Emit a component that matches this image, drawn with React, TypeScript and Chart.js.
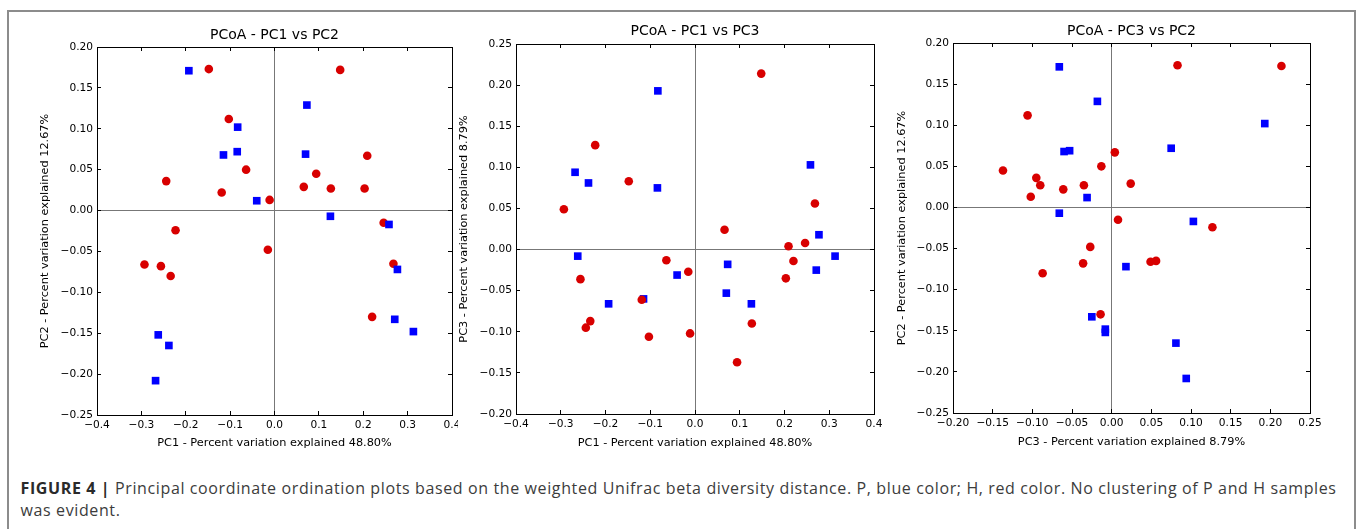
import React, { useEffect, useRef } from 'react';
import { Chart, registerables } from 'chart.js';

Chart.register(...registerables);

// ---- Data: P samples (blue squares) ----
const P_PC1 = [-0.193, 0.073, -0.083, -0.115, -0.084, 0.070, -0.040, 0.126, 0.258, 0.277, 0.271, 0.313, -0.262, -0.238, -0.268];
const P_PC2 = [0.171, 0.129, 0.102, 0.068, 0.072, 0.069, 0.012, -0.007, -0.017, -0.072, -0.133, -0.148, -0.152, -0.165, -0.208];
const P_PC3 = [-0.066, -0.018, 0.193, -0.060, 0.075, -0.053, -0.031, -0.066, 0.103, 0.018, -0.025, -0.008, -0.008, 0.081, 0.094];

// ---- Data: H samples (red circles) ----
const H_PC1 = [-0.148, 0.148, -0.103, -0.064, -0.244, -0.119, -0.011, 0.066, 0.094, 0.127, 0.203, 0.209, 0.246, -0.223, -0.015, -0.293, -0.256, -0.234, 0.268, 0.220];
const H_PC2 = [0.173, 0.172, 0.112, 0.050, 0.036, 0.022, 0.013, 0.029, 0.045, 0.027, 0.027, 0.067, -0.015, -0.024, -0.048, -0.066, -0.068, -0.080, -0.065, -0.130];
const H_PC3 = [0.083, 0.214, -0.106, -0.013, -0.095, -0.061, -0.102, 0.024, -0.137, -0.090, -0.035, 0.004, 0.008, 0.127, -0.027, 0.049, -0.036, -0.087, 0.056, -0.014];

// ---- Tick values ----
const PC1_TICKS = [-0.4, -0.3, -0.2, -0.1, 0.0, 0.1, 0.2, 0.3, 0.4];
const PC2_TICKS = [-0.25, -0.2, -0.15, -0.1, -0.05, 0.0, 0.05, 0.1, 0.15, 0.2];
const PC3_TICKS_Y = [-0.2, -0.15, -0.1, -0.05, 0.0, 0.05, 0.1, 0.15, 0.2, 0.25];
const PC3_TICKS_X = [-0.2, -0.15, -0.1, -0.05, 0.0, 0.05, 0.1, 0.15, 0.2, 0.25];

// ---- Text ----
const TITLES = ['PCoA - PC1 vs PC2', 'PCoA - PC1 vs PC3', 'PCoA - PC3 vs PC2'];
const PC1_LABEL = 'PC1 - Percent variation explained 48.80%';
const PC2_LABEL = 'PC2 - Percent variation explained 12.67%';
const PC3_LABEL = 'PC3 - Percent variation explained 8.79%';
const CAPTION_BOLD = 'FIGURE 4 |';
const CAPTION_LINE1 = ' Principal coordinate ordination plots based on the weighted Unifrac beta diversity distance. P, blue color; H, red color. No clustering of P and H samples';
const CAPTION_LINE2 = 'was evident.';

const BLUE = '#0000ff';
const RED = '#d80000';
const FONT = "'DejaVu Sans', sans-serif";

type PanelSpec = {
  title: string;
  xLabel: string;
  yLabel: string;
  px: number[]; py: number[]; hx: number[]; hy: number[];
  xTicks: number[]; yTicks: number[];
  xDec: number; yDec: number;
  blueOnTop: boolean;
  // layout
  left: number; top: number; width: number; height: number;
  wl: number; wr: number; ht: number; hb: number;
  titlePad: number; xTitlePad: number; yTitlePad: number;
};

const fmt = (v: number, d: number) => (v < -1e-9 ? '\u2212' : '') + Math.abs(v).toFixed(d);

const PANELS: PanelSpec[] = [
  {
    title: TITLES[0], xLabel: PC1_LABEL, yLabel: PC2_LABEL,
    px: P_PC1, py: P_PC2, hx: H_PC1, hy: H_PC2,
    xTicks: PC1_TICKS, yTicks: PC2_TICKS, xDec: 1, yDec: 2, blueOnTop: true,
    left: 20, top: 15, width: 438, height: 445,
    wl: 77, wr: 6, ht: 32, hb: 45,
    titlePad: 13, xTitlePad: 11, yTitlePad: 19.8,
  },
  {
    title: TITLES[1], xLabel: PC1_LABEL, yLabel: PC3_LABEL,
    px: P_PC1, py: P_PC3, hx: H_PC1, hy: H_PC3,
    xTicks: PC1_TICKS, yTicks: PC3_TICKS_Y, xDec: 1, yDec: 2, blueOnTop: false,
    left: 450, top: 15, width: 440, height: 445,
    wl: 66, wr: 16, ht: 29, hb: 46,
    titlePad: 9.7, xTitlePad: 11, yTitlePad: 8.9,
  },
  {
    title: TITLES[2], xLabel: PC3_LABEL, yLabel: PC2_LABEL,
    px: P_PC3, py: P_PC2, hx: H_PC3, hy: H_PC2,
    xTicks: PC3_TICKS_X, yTicks: PC2_TICKS, xDec: 2, yDec: 2, blueOnTop: true,
    left: 890, top: 15, width: 450, height: 445,
    wl: 63, wr: 30, ht: 28, hb: 47,
    titlePad: 9.7, xTitlePad: 12.6, yTitlePad: 6.4,
  },
];

function Panel({ spec }: { spec: PanelSpec }) {
  const ref = useRef<HTMLCanvasElement | null>(null);
  useEffect(() => {
    if (!ref.current) return;
    const s = spec;
    const tickFont = { family: FONT, size: 10.6 };
    const zeroColor = (ctx: any) => (Math.abs(ctx.tick?.value ?? 1) < 1e-9 ? '#777777' : 'rgba(0,0,0,0)');
    const fixPad = (scale: any) => {
      scale.paddingLeft = 0; scale.paddingRight = 0; scale.paddingTop = 0; scale.paddingBottom = 0;
    };
    const setTicks = (arr: number[]) => (scale: any) => { scale.ticks = arr.map((v) => ({ value: v })); };
    const [xmin, xmax] = [s.xTicks[0], s.xTicks[s.xTicks.length - 1]];
    const [ymin, ymax] = [s.yTicks[0], s.yTicks[s.yTicks.length - 1]];
    const blue = {
      label: 'P',
      data: s.px.map((v, i) => ({ x: v, y: s.py[i] })),
      pointStyle: 'rect',
      pointRadius: 5.4,
      backgroundColor: BLUE,
      borderWidth: 0,
      order: s.blueOnTop ? 0 : 1,
    };
    const red = {
      label: 'H',
      data: s.hx.map((v, i) => ({ x: v, y: s.hy[i] })),
      pointStyle: 'circle',
      pointRadius: 4.3,
      backgroundColor: RED,
      borderWidth: 0,
      order: s.blueOnTop ? 1 : 0,
    };
    const chart = new Chart(ref.current, {
      type: 'scatter',
      data: { datasets: [blue as any, red as any] },
      options: {
        animation: false,
        responsive: false,
        events: [],
        layout: { padding: 0 },
        plugins: { legend: { display: false }, tooltip: { enabled: false }, title: { display: false } },
        scales: {
          x: {
            type: 'linear', position: 'bottom', min: xmin, max: xmax,
            afterBuildTicks: setTicks(s.xTicks),
            afterFit: (sc: any) => { sc.height = s.hb; fixPad(sc); },
            ticks: { font: tickFont, color: '#000', padding: 8, maxRotation: 0, autoSkip: false, callback: (v: any) => fmt(Number(v), s.xDec) },
            grid: { drawOnChartArea: true, drawTicks: true, tickLength: -4, color: zeroColor, tickColor: '#000', lineWidth: 1, tickWidth: 1 },
            border: { display: true, color: '#000', width: 1 },
            title: { display: true, text: s.xLabel, color: '#000', font: { family: FONT, size: 11.3, lineHeight: 1 }, padding: { top: 0, bottom: s.xTitlePad } },
          },
          x2: {
            type: 'linear', position: 'top', min: xmin, max: xmax,
            afterBuildTicks: setTicks(s.xTicks),
            afterFit: (sc: any) => { sc.height = s.ht; fixPad(sc); },
            ticks: { display: false },
            grid: { drawOnChartArea: false, drawTicks: true, tickLength: -4, tickColor: '#000', color: '#000', tickWidth: 1 },
            border: { display: true, color: '#000', width: 1 },
            title: { display: true, text: s.title, color: '#000', font: { family: FONT, size: 14, lineHeight: 1 }, padding: { top: s.titlePad, bottom: 0 } },
          },
          y: {
            type: 'linear', position: 'left', min: ymin, max: ymax,
            afterBuildTicks: setTicks(s.yTicks),
            afterFit: (sc: any) => { sc.width = s.wl; fixPad(sc); },
            ticks: { font: tickFont, color: '#000', padding: 8, autoSkip: false, callback: (v: any) => fmt(Number(v), s.yDec) },
            grid: { drawOnChartArea: true, drawTicks: true, tickLength: -4, color: zeroColor, tickColor: '#000', lineWidth: 1, tickWidth: 1 },
            border: { display: true, color: '#000', width: 1 },
            title: { display: true, text: s.yLabel, color: '#000', font: { family: FONT, size: 11.3, lineHeight: 1 }, padding: { top: s.yTitlePad, bottom: 0 } },
          },
          y2: {
            type: 'linear', position: 'right', min: ymin, max: ymax,
            afterBuildTicks: setTicks(s.yTicks),
            afterFit: (sc: any) => { sc.width = s.wr; fixPad(sc); },
            ticks: { display: false },
            grid: { drawOnChartArea: false, drawTicks: true, tickLength: -4, tickColor: '#000', color: '#000', tickWidth: 1 },
            border: { display: true, color: '#000', width: 1 },
          },
        },
      } as any,
    });
    return () => chart.destroy();
  }, [spec]);
  return (
    <canvas
      ref={ref}
      width={spec.width}
      height={spec.height}
      style={{ position: 'absolute', left: spec.left, top: spec.top, width: spec.width, height: spec.height }}
    />
  );
}

export default function App() {
  return (
    <div style={{ position: 'absolute', left: 0, top: 0, width: 1357, height: 529, overflow: 'hidden', background: '#fff' }}>
      <div style={{ position: 'absolute', left: 7, top: 10, width: 1349, height: 560, border: '2px solid #8c8c8c', boxSizing: 'border-box' }} />
      {PANELS.map((p, i) => (
        <Panel key={i} spec={p} />
      ))}
      <div style={{ position: 'absolute', left: 20.5, top: 476.5, whiteSpace: 'nowrap', fontFamily: "'Open Sans', 'Liberation Sans', sans-serif", fontSize: 16, letterSpacing: '0.62px', lineHeight: '22.5px', color: '#3c3c3c' }}>
        <div>
          <span style={{ fontWeight: 'bold', color: '#2a2a2a' }}>{CAPTION_BOLD}</span>
          {CAPTION_LINE1}
        </div>
        <div>{CAPTION_LINE2}</div>
      </div>
    </div>
  );
}
